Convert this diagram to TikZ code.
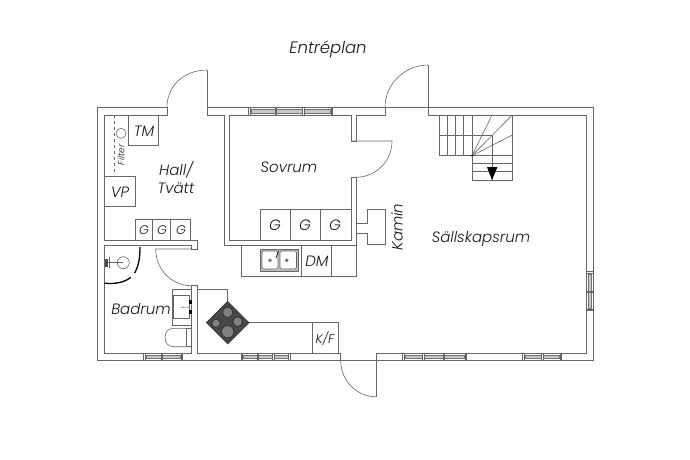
\documentclass[tikz,border=0pt]{standalone}
\usepackage{fontspec}
\setmainfont{Poppins Light}[ItalicFont={Poppins Light Italic}]
\tikzstyle{wall}=[draw=black!60,line width=0.8pt,line join=miter]
\tikzstyle{thin}=[draw=black!60,line width=0.6pt]
\tikzstyle{label}=[font=\itshape\fontsize{15}{15}\selectfont,text=black!90,inner sep=0pt]
\tikzstyle{small}=[font=\itshape\fontsize{12.5}{12.5}\selectfont,text=black!90,inner sep=0pt]
\tikzstyle{pane}=[draw=black!55,fill=black!22,line width=0.5pt]
\tikzstyle{burner}=[draw=black!80,fill=black!50,line width=0.8pt]
\newcommand{\winh}[4]{
    \draw[thin,fill=white] (#1,#3) rectangle (#2,#3+7.4);
    \draw[pane] (#1+1.5,#3+2) rectangle (#2-1.5,#3+5.4);
    \foreach \m in {#1,#2,#4}
        \draw[thin,fill=white] (\m-0.7,#3) rectangle (\m+0.7,#3+7.4);
}
\newcommand{\winv}[4]{
    \draw[thin,fill=white] (#3,#1) rectangle (#3+7.4,#2);
    \draw[pane] (#3+2,#1+1.5) rectangle (#3+5.4,#2-1.5);
    \foreach \m in {#1,#2,#4}
        \draw[thin,fill=white] (#3,\m-0.7) rectangle (#3+7.4,\m+0.7);
}

\begin{document}
\begin{tikzpicture}[x=1pt,y=-1pt]
    \useasboundingbox (0,0) rectangle (690,460);

    \path[wall] (167,107.3) -- (97,107.3) -- (97,360.7) -- (593.3,360.7) -- (593.3,107.3) -- (207,107.3);
    \path[wall] (167,107.3) -- (167,115) -- (104.7,115) -- (104.7,240) -- (197.3,240) -- (197.3,249)
        -- (191.7,249) -- (191.7,245) -- (104.7,245) -- (104.7,353.3) -- (191.7,353.3)
        -- (191.7,285.7) -- (197.3,285.7) -- (197.3,353.3) -- (340.7,353.3) -- (340.7,360.7);
    \path[wall] (207,70) -- (207,115) -- (224.3,115) -- (224.3,245) -- (356,245) -- (356,177.3)
        -- (351,177.3) -- (351,240.3) -- (229.3,240.3) -- (229.3,115) -- (351,115) -- (351,141)
        -- (356,141) -- (356,115) -- (385,115) -- (385,107.3);
    \path[wall] (428,65) -- (428,115) -- (586,115) -- (586,353.3) -- (376,353.3);
    \path[wall] (376,396.7) -- (376,353.3);

    \path[thin] (351,141) -- (392,141) .. controls (392,161) and (376,177.3) .. (356,177.3);
    \path[thin] (167,107.3) .. controls (167,85) and (185,70) .. (207,70);
    \path[thin] (385,107.3) .. controls (385,84) and (405,65) .. (428,65);
    \path[thin] (340.7,360.7) .. controls (340.7,380) and (356,396.7) .. (376,396.7);
    \path[thin] (191.7,249) -- (155.7,249) .. controls (155.7,269) and (171,285.7) .. (191.7,285.7);

    \winh{249.3}{331.7}{107.5}{276,303.3}
    \winh{144.3}{181.7}{353.3}{161.7}
    \winh{241.7}{289.3}{353.3}{257.7,273.3}
    \winh{403.3}{466}{353.3}{423.3,444}
    \winh{523.3}{561}{353.3}{542.3}
    \winv{272.3}{310}{586}{291.7}

    \draw[thin] (128.3,115) rectangle (158.3,145);
    \draw[thin] (104.7,176.7) rectangle (135,206.7);
    \draw[thin,dashed] (114,115) -- (114,171.7) -- (117,171.7);
    \draw[thin] (121,133.3) circle (5);
    \draw[thin] (135,240) rectangle (190.7,219.3);
    \draw[thin] (152.7,219.3) -- (152.7,240);
    \draw[thin] (170.3,219.3) -- (170.3,240);

    \draw[thin] (260,240.3) rectangle (351,209.3);
    \draw[thin] (290.3,209.3) -- (290.3,240.3);
    \draw[thin] (320.7,209.3) -- (320.7,240.3);

    \draw[thin] (241,245) -- (241,276) -- (356.7,276) -- (356.7,245);
    \draw[thin] (301.7,245) -- (301.7,276);
    \draw[thin] (331.7,245) -- (331.7,276);
    \draw[draw=black!60,fill=black!25,line width=0.6pt] (260,249.3) rectangle (298.3,271);
    \draw[thin,fill=white,rounded corners=1.5pt] (262,251) rectangle (278,269);
    \draw[thin,fill=white,rounded corners=1.5pt] (280,251) rectangle (296.5,269);
    \draw[thin,fill=black!50] (270,260.3) circle (1.5);
    \draw[thin,fill=black!50] (286.7,260.3) circle (1.5);
    \draw[draw=black,line width=0.7pt] (278.5,251) -- (276,258);

    \draw[thin] (356,223.3) -- (367.7,223.3) -- (367.7,209.3) -- (385.7,209.3) -- (385.7,244.3)
        -- (367.7,244.3) -- (367.7,233.3) -- (356,233.3);

    \draw[thin] (439,115) -- (439,155.7) -- (472,155.7);
    \foreach \sx in {447.3,455.7,463.7,472}
        \draw[thin] (\sx,115) -- (\sx,155.7);
    \draw[thin] (439,135) -- (492,135);
    \draw[thin] (472,155.7) -- (472,180) -- (512.3,180) -- (512.3,115);
    \foreach \sy in {155.7,163.3,171.7}
        \draw[thin] (472,\sy) -- (512.3,\sy);
    \draw[thin] (472,155.7) -- (492,115);
    \draw[thin] (472,155.7) -- (512.3,115);
    \draw[thin] (472,155.7) -- (512.3,135);
    \draw[thin] (492,135) -- (492,180);
    \fill[black] (487,167) -- (497.5,167) -- (492,180) -- cycle;
    \fill[black] (472,155.7) circle (1);

    \draw[thin] (123.3,262.7) circle (6);
    \draw[thin] (104.7,262.7) -- (123.3,262.7);
    \draw[thin] (109,257) -- (109,268);
    \fill[black!70] (105,259) rectangle (108,266.5);
    \draw[black,line width=1.3pt] (140,247) .. controls (140,257) and (139,265) .. (134.7,273);
    \draw[black,line width=1.3pt] (130.7,277.3) .. controls (124,283) and (114,284) .. (104.7,283.3);

    \draw[thin] (191.7,289.3) -- (172.3,289.3) -- (172.3,325) -- (191.7,325);
    \draw[thin] (173.5,295) rectangle (189.3,318);
    \draw[thin] (181,307.3) -- (190,307);
    \fill[black] (189.3,300) rectangle (192,304);
    \fill[black] (189.3,310) rectangle (192,314);
    \draw[thin] (186.7,328.3) rectangle (191.7,346.7);
    \draw[thin] (186.7,328.3) -- (174,328.3) .. controls (168,328.3) and (165,332) .. (165,337.5)
        .. controls (165,343) and (168,346.7) .. (174,346.7) -- (186.7,346.7);

    \draw[thin] (197.3,289.3) -- (227.7,289.3) -- (227.7,302);
    \draw[thin] (249,322.7) -- (338.3,322.7) -- (338.3,353.3);
    \draw[thin] (312.3,322.7) -- (312.3,353.3);
    \draw[draw=black!80,fill=black!72,line width=0.6pt] (227.7,301.4) -- (249,322.7) -- (227.7,344) -- (206.4,322.7) -- cycle;
    \draw[burner] (227.7,312.3) circle (5.2);
    \draw[burner] (227.7,331.7) circle (6.2);
    \draw[burner] (216,323.3) circle (4.2);
    \draw[burner] (237.7,321.7) circle (4.8);

    \node[label,font=\itshape\fontsize{16.5}{16.5}\selectfont] (title) at (328,49) {Entréplan};
    \node[label] (hall) at (176,170) {Hall/};
    \node[label] (tvatt) at (176,188) {Tvätt};
    \node[label] (sovrum) at (289,167) {Sovrum};
    \node[label] (badrum) at (141,309) {Badrum};
    \node[label] (sallskap) at (481,239) {Sällskapsrum};
    \node[label,rotate=90] (kamin) at (397,227) {Kamin};
    \node[label] (tm) at (144,131) {TM};
    \node[label] (vp) at (120,192) {VP};
    \node[label] (dm) at (317,261) {DM};
    \node[small] (kf) at (325,339) {K/F};
    \node[font=\itshape\fontsize{9}{9}\selectfont,text=black!90,inner sep=0pt,rotate=90] (filter) at (121,155) {Filter};
    \foreach \gx/\gn in {144/a,162/b,181/c}
        \node[small] (hall\gn) at (\gx,230) {G};
    \foreach \gx/\gn in {275/a,305/b,335/c}
        \node[label] (sov\gn) at (\gx,225) {G};
\end{tikzpicture}
\end{document}
